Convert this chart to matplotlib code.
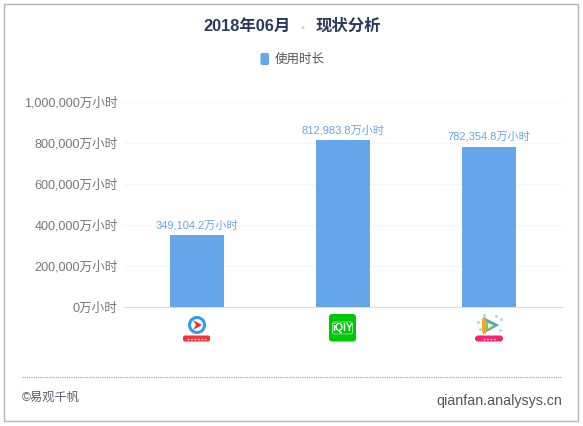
import matplotlib
matplotlib.use("Agg")
import matplotlib.pyplot as plt
from matplotlib.patches import Circle, FancyBboxPatch, Polygon, Rectangle

plt.rcParams['font.family'] = ['Liberation Sans', 'Noto Sans CJK SC', 'DejaVu Sans']

# values
apps = ["腾讯视频", "爱奇艺", "优酷"]
usage = [349104.2, 812983.8, 782354.8]
y_ticks = [0, 200000, 400000, 600000, 800000, 1000000]
title_left = "2018年06月"
title_right = "现状分析"
legend_label = "使用时长"
unit = "万小时"

W, H = 583, 426
BAR = "#66a6ea"

fig = plt.figure(figsize=(W / 100, H / 100), dpi=100)

# full figure axes in pixels, for the frame, header, footer and logos
bg = fig.add_axes([0, 0, 1, 1])
bg.set_xlim(0, W)
bg.set_ylim(H, 0)
bg.axis("off")
bg.add_patch(Rectangle((3.5, 3.5), 574, 417, fc="white", ec="#b4b4b4", lw=1))

# title
bg.text(247.5, 26, title_left, ha="center", va="center", fontsize=11.8, fontweight="bold", color="#2b3a5c")
bg.add_patch(Circle((303, 27.5), 1.5, fc="#d0d0d0", ec="none"))
bg.text(348, 26, title_right, ha="center", va="center", fontsize=11.8, fontweight="bold", color="#2b3a5c")

# legend
bg.add_patch(FancyBboxPatch((260.5, 53), 8.5, 12, boxstyle="round,pad=0,rounding_size=1.5", fc=BAR, ec="none"))
bg.text(275, 59.5, legend_label, ha="left", va="center", fontsize=9, color="#555555")

# footer
bg.plot([22, 562], [377, 377], color="#a0a0a0", lw=0.8, ls=(0, (1, 1)))
bg.text(22, 398, "©易观千帆", ha="left", va="center", fontsize=8.8, color="#555b66")
bg.text(562, 400.5, "qianfan.analysys.cn", ha="right", va="center", fontsize=10.3, color="#555555")

# chart
ax = fig.add_axes([124 / W, 1 - 307 / H, (562 - 124) / W, (307 - 102) / H])
ax.patch.set_alpha(0)
ax.bar(range(len(apps)), usage, width=54 / 146, color=BAR, zorder=3)
ax.set_xlim(-0.5, 2.5)
ax.set_ylim(0, 1000000)
ax.set_yticks(y_ticks)
ax.set_yticklabels([f"{v:,}{unit}" for v in y_ticks], fontsize=9.1, color="#777777")
ax.set_xticks([])
ax.tick_params(axis="y", length=0, pad=4.5)
ax.grid(axis="y", color="#f6f6f6", lw=0.8, zorder=0)
for s in ["top", "left", "right"]:
    ax.spines[s].set_visible(False)
ax.spines["bottom"].set_color("#dddddd")

for i, v in enumerate(usage):
    ax.annotate(f"{v:,.1f}{unit}", (i, v), xytext=(0, 3.5), textcoords="offset points",
                ha="center", va="bottom", fontsize=8, color=BAR)

# logos under the bars
# tencent video
bg.add_patch(Circle((197, 325), 7.5, fc="white", ec="#2d9ff0", lw=2.2))
bg.add_patch(Polygon([[193, 320], [202, 325], [193, 330], [196, 325]], fc="#e8302e", ec="none"))
bg.add_patch(FancyBboxPatch((183, 335.5), 27, 6, boxstyle="round,pad=0,rounding_size=2", fc="#f5333a", ec="none"))
bg.plot([187, 206], [338.5, 338.5], color="#ffc8c8", lw=1, ls=(0, (1.5, 1)))
# iqiyi
bg.add_patch(FancyBboxPatch((329, 314), 27, 27.5, boxstyle="round,pad=0,rounding_size=3", fc="#00c808", ec="none"))
bg.add_patch(FancyBboxPatch((332.5, 322), 20, 12, boxstyle="round,pad=0,rounding_size=2", fc="none", ec="#9ce89c", lw=0.6))
bg.text(342.5, 328, "iQIY", ha="center", va="center", fontsize=7.5, fontweight="bold", color="white")
# third logo
bg.add_patch(Polygon([[483, 317], [499, 325], [483, 334]], fc="#3a9cf0", ec="none"))
bg.add_patch(Polygon([[482, 319], [486, 317], [486, 334], [482, 332]], fc="#f5a623", ec="none"))
bg.add_patch(Polygon([[486, 320.5], [496, 325.5], [486, 331]], fc="#8cc63f", ec="none"))
bg.add_patch(Polygon([[488, 323], [493, 325.5], [488, 328.5]], fc="#f4f7e6", ec="none"))
bg.plot([478, 480, 501, 500, 484, 496], [322, 329, 319, 330, 315, 316], ls="none", marker="s", ms=1, color="#9fe0e8")
bg.add_patch(FancyBboxPatch((475, 335.5), 28, 6, boxstyle="round,pad=0,rounding_size=3", fc="#f8206f", ec="none"))
bg.plot([483, 496], [338.5, 338.5], color="#ffc0d8", lw=1, ls=(0, (1.5, 1)))

fig.savefig("out.png", dpi=100)
